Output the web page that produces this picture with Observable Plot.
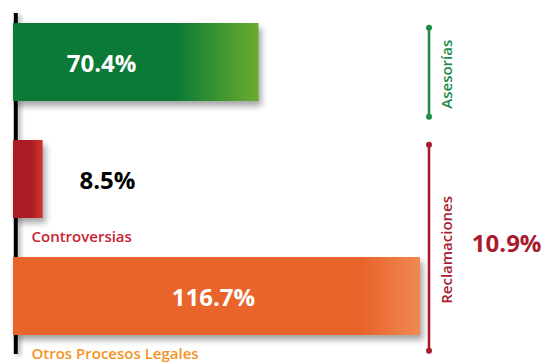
<!DOCTYPE html>
<html><head><meta charset="utf-8">
<script src="https://cdn.jsdelivr.net/npm/d3@7"></script>
<script src="https://cdn.jsdelivr.net/npm/@observablehq/plot@0.6"></script>
<style>body{margin:0;background:#fff;overflow:hidden}</style>
</head><body><div id="chart"></div>
<script>
// ---- data ----
const categories = ["Asesorías", "Controversias", "Otros Procesos Legales"];
const values = [70.4, 8.5, 116.7];
const valueLabels = ["70.4%", "8.5%", "116.7%"];
const subLabels = ["", "Controversias", "Otros Procesos Legales"];
const groupNames = ["Asesorías", "Reclamaciones"];
const groupFrom = ["Asesorías", "Controversias"];
const groupTo = ["Asesorías", "Otros Procesos Legales"];
const groupShare = ["", "10.9%"];

// ---- styles / layout ----
const barGradients = [["#0a7a36", "#6aac2e", 0.66], ["#ab1b24", "#d4342b", 0.6], ["#e9642b", "#ee8a52", 0.86]];
const valueLabelColors = ["#ffffff", "#000000", "#ffffff"];
const valueLabelDx = [88, 94, 200];
const subLabelColors = ["", "#cc2233", "#f39325"];
const groupColors = ["#1c8c48", "#a81c2e"];
const font = "Open Sans";
const yRange = [23, 336], pad = 0.33;
const step = (yRange[1] - yRange[0]) / (categories.length - pad);
const bw = step * (1 - pad);
const bTop = 4.5, bBottom = 15, bDx = 8.5;
const xMax = d3.max(values);

const rows = categories.map((c, i) => ({category: c, value: values[i], label: valueLabels[i],
  grad: `url(#grad${i})`, sub: subLabels[i], subColor: subLabelColors[i]}));
const groups = groupNames.map((g, i) => ({name: g, from: groupFrom[i], to: groupTo[i], share: groupShare[i],
  color: groupColors[i], span: categories.indexOf(groupTo[i]) - categories.indexOf(groupFrom[i])}));

const marks = [
  Plot.ruleX([0], {stroke: "#000", strokeWidth: 4, dx: 2.3, insetTop: 13, insetBottom: 9}),
  Plot.barX(rows, {y: "category", x: "value", fill: "grad"}),
  ...rows.map((r, i) => Plot.text([r], {y: "category", x: 0, dx: valueLabelDx[i], dy: 2, text: "label",
    fill: valueLabelColors[i], fontSize: 24, fontWeight: 700, fontFamily: font, textAnchor: "middle"})),
  Plot.text(rows.filter(d => d.sub), {y: "category", x: 0, dx: 18, dy: bw / 2 + 23.5, text: "sub", fill: "subColor",
    textAnchor: "start", lineAnchor: "bottom", fontSize: 15, fontWeight: 600, fontFamily: font}),
  Plot.ruleX(groups, {x: () => xMax, dx: bDx, y1: "from", y2: "to", insetTop: bTop, insetBottom: -bBottom,
    stroke: "color", strokeWidth: 2.6}),
  Plot.dot(groups, {x: () => xMax, dx: bDx, y: "from", dy: -bw / 2 + bTop, r: 3, fill: "color", stroke: null}),
  Plot.dot(groups, {x: () => xMax, dx: bDx, y: "to", dy: bw / 2 + bBottom, r: 3, fill: "color", stroke: null}),
  ...groups.map(g => {
    const dy = (g.span * step + bTop + bBottom) / 2;
    return [
      Plot.text([g], {x: () => xMax, dx: 27, y: "from", dy: dy + 2, text: "name", rotate: -90, fill: "color",
        fontSize: 15, fontWeight: 600, fontFamily: font}),
      Plot.text([g].filter(d => d.share), {frameAnchor: "right", dx: -3, y: "from", dy: dy - 4, text: "share",
        textAnchor: "end", fill: "color", fontSize: 24, fontWeight: 700, fontFamily: font})
    ];
  })
];

const plot = Plot.plot({
  width: 544, height: 363,
  marginTop: 0, marginBottom: 0, marginLeft: 0, marginRight: 0,
  style: {background: "#fff", fontFamily: font, overflow: "hidden"},
  x: {domain: [0, xMax], range: [13, 420], axis: null},
  y: {domain: categories, range: yRange, paddingInner: pad, paddingOuter: 0, axis: null},
  color: {type: "identity"},
  marks
});

const svg = d3.select(plot);
const defs = svg.insert("defs", ":first-child");
barGradients.forEach(([c0, c1, off], i) => {
  const g = defs.append("linearGradient").attr("id", `grad${i}`)
    .attr("x1", 0).attr("x2", 1).attr("y1", 0).attr("y2", 0);
  g.append("stop").attr("offset", 0).attr("stop-color", c0);
  g.append("stop").attr("offset", off).attr("stop-color", c0);
  g.append("stop").attr("offset", 1).attr("stop-color", c1);
});
svg.selectAll("g[aria-label='bar'] rect").style("filter", "drop-shadow(3px 5px 3px rgba(0,0,0,0.35))");
svg.select("g[aria-label='rule'] line").style("filter", "drop-shadow(3px 2px 2px rgba(0,0,0,0.3))");
document.getElementById("chart").appendChild(plot);
</script>
</body></html>
